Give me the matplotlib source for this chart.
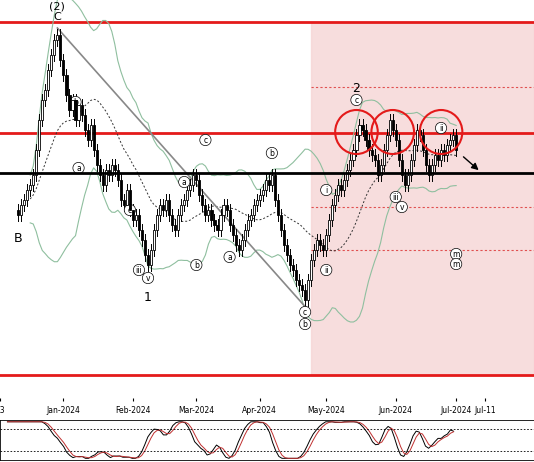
import numpy as np, pandas as pd
import matplotlib
matplotlib.use("Agg")
import matplotlib.pyplot as plt
from matplotlib.patches import Ellipse, Rectangle

# closes in screen-pixel terms (converted to price = 400 - y)
close_px = [215,205,200,190,185, 175,150,120,100,90, 70,55,40,35,60,
 75,95,110,100,120, 105,115,130,140,125, 150,165,175,185,170, 175,165,170,180,200,
 205,190,210,220,215, 230,240,255,265,250, 230,215,205,210,200, 215,225,230,215,205,
 200,190,185,175,180, 195,205,215,210,220, 225,230,215,205,210, 225,235,245,250,240,
 230,220,215,205,200, 195,190,180,185,175, 200,215,230,245,255, 265,270,280,285,290,
 300,280,260,250,240, 245,250,235,220,205, 195,185,190,180,170, 160,150,135,125,130,
 140,150,155,160,175, 165,150,135,120,130, 140,160,175,185,175, 160,145,130,135,150,
 165,175,165,155,160, 150,155,145,140,135, 150]
dates = pd.bdate_range("2023-12-11", periods=len(close_px))
tick_dates = ["2023-12-01","2024-01-01","2024-02-01","2024-03-01","2024-04-01","2024-05-01","2024-06-03","2024-07-01","2024-07-11"]
tick_labels = ["23","Jan-2024","Feb-2024","Mar-2024","Apr-2024","May-2024","Jun-2024","Jul-2024","Jul-11"]
hlines_solid_red = [378, 267, 25]
hline_black = 227
hlines_dashed = [313, 193, 150]

close = 400 - np.array(close_px, float)
opn = np.r_[close[0] + 5, close[:-1]]
wick = 6
high = np.maximum(opn, close) + wick
low = np.minimum(opn, close) - wick
x = np.arange(len(close))
def xpos(d):
    return np.busday_count(np.datetime64(dates[0].date()), np.datetime64(pd.Timestamp(d).date()))

fig = plt.figure(figsize=(5.34, 4.62), dpi=100)
ax = fig.add_axes([0, 0.1385, 1, 0.8615])
x0 = xpos("2024-01-01") - 48/3.12
x1 = x0 + 534/3.12
ax.set_xlim(x0, x1); ax.set_ylim(2, 400)

xs = xpos("2024-04-24")
ax.add_patch(Rectangle((xs, 25), x1 - xs, 353, color="#f6d5d5", alpha=0.8, zorder=0))
for h in hlines_dashed:
    ax.plot([xs, x1], [h, h], ls=(0, (2, 2)), color="#e05050", lw=0.8, zorder=1)
for h in hlines_solid_red:
    ax.axhline(h, color="#e41a1a", lw=2, zorder=2)

s = pd.Series(close)
m = s.rolling(20, min_periods=5).mean(); sd = s.rolling(20, min_periods=5).std()
ax.plot(x, m + 2*sd, color="#8fbf9f", lw=0.8)
ax.plot(x, m - 2*sd, color="#8fbf9f", lw=0.8)
ax.plot(x, m, color="#333333", lw=0.7, ls=(0, (2, 2)))

for i in x:
    ax.plot([i, i], [low[i], high[i]], color="black", lw=0.7, zorder=3)
    up = close[i] >= opn[i]
    ax.add_patch(Rectangle((i-0.35, min(opn[i], close[i])), 0.7, max(abs(close[i]-opn[i]), 0.8),
                           facecolor="white" if up else "black", edgecolor="black", lw=0.6, zorder=4))
ax.axhline(hline_black, color="black", lw=2, zorder=5)

ax.plot([xpos("2023-12-28"), xpos("2024-04-23")], [372, 90], color="#888888", lw=1.2)
ax.annotate("", xy=(x1 - 55/3.12, 228), xytext=(x1 - 75/3.12, 245),
            arrowprops=dict(arrowstyle="-|>", color="black", lw=1))
for d in ["2024-05-15", "2024-05-31", "2024-06-24"]:
    ax.add_patch(Ellipse((xpos(d), 268), 44/3.12, 44, fill=False, ec="#e41a1a", lw=1.5, zorder=6))

for t, d, y, fs in [("(2)", "2023-12-28", 394, 8), ("C", "2023-12-28", 383, 8), ("B", "2023-12-11", 162, 9),
                ("1", "2024-02-08", 103, 9), ("2", "2024-05-15", 312, 9)]:
    ax.text(xpos(d), y, t, ha="center", va="center", fontsize=fs)
for t, d, y in [("b", "2024-01-05", 298), ("a", "2024-01-08", 232), ("c", "2024-01-31", 190),
                ("v", "2024-02-08", 122), ("iii", "2024-02-05", 130), ("a", "2024-02-26", 218),
                ("b", "2024-03-01", 135), ("c", "2024-03-06", 260), ("a", "2024-03-18", 143),
                ("b", "2024-04-05", 247), ("c", "2024-04-22", 88), ("b", "2024-04-22", 76),
                ("ii", "2024-05-01", 130), ("i", "2024-05-01", 210), ("c", "2024-05-15", 300),
                ("iii", "2024-06-03", 203), ("v", "2024-06-05", 193), ("ii", "2024-06-24", 272),
                ("m", "2024-07-01", 146), ("m", "2024-07-01", 136)]:
    ax.text(xpos(d), y, t, ha="center", va="center", fontsize=5.5,
            bbox=dict(boxstyle="circle,pad=0.15", fc="white", ec="black", lw=0.5))

ax.set_yticks([])
tick_x = [xpos(d) for d in tick_dates]
tick_x[-1] = tick_x[-2] + 30/3.12
ax.set_xticks(tick_x)
ax.set_xticklabels(tick_labels, fontsize=5.5)
ax.tick_params(axis="x", length=2, pad=4)
for sp in ax.spines.values(): sp.set_visible(False)

ax2 = fig.add_axes([0, 0.004, 1, 0.087])
lo = s.rolling(14, min_periods=3).min(); hi = s.rolling(14, min_periods=3).max()
k = 100*(s - lo)/(hi - lo + 1e-9)
k = k.rolling(3, min_periods=1).mean(); dd = k.rolling(3, min_periods=1).mean()
ax2.plot(x, k, color="black", lw=0.7); ax2.plot(x, dd, color="#c03030", lw=0.7)
for h in (20, 80): ax2.axhline(h, color="black", lw=0.6, ls=(0, (2, 2)))
ax2.set_xlim(x0, x1); ax2.set_ylim(-5, 105)
ax2.set_xticks([]); ax2.set_yticks([])
for sp in ax2.spines.values(): sp.set_linewidth(0.6)
fig.savefig("out.png", dpi=100)
